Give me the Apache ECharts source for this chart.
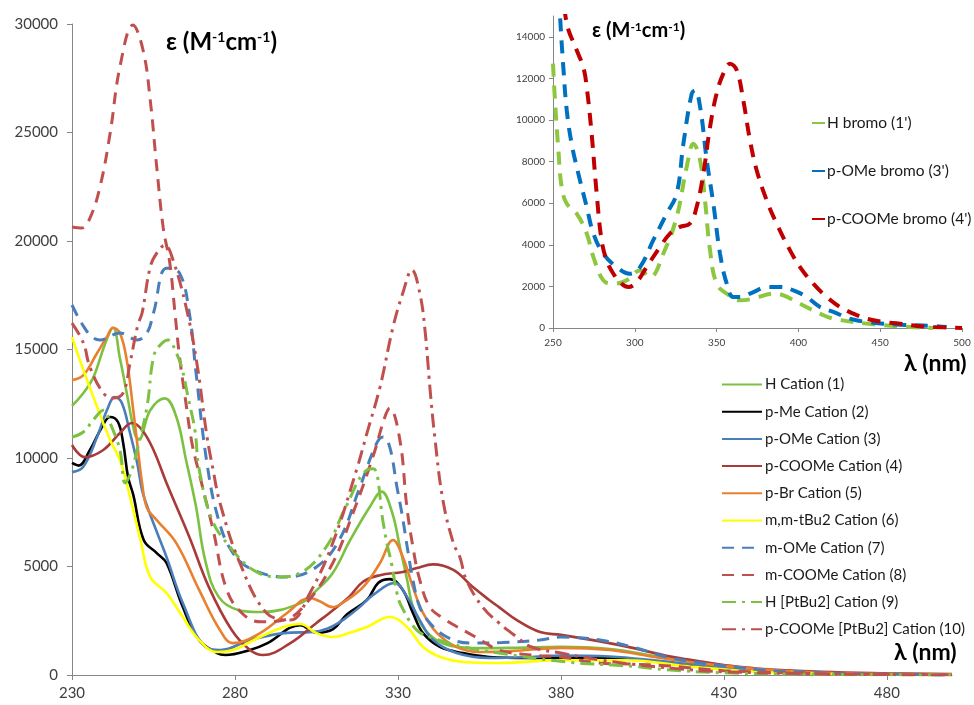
<!DOCTYPE html>
<html>
<head>
<meta charset="utf-8">
<script src="https://cdn.jsdelivr.net/npm/echarts@6/dist/echarts.min.js"></script>
<style>
  html, body { margin: 0; padding: 0; background: #fff; }
  #chart { width: 974px; height: 705px; }
</style>
</head>
<body>
<div id="chart"></div>
<script>
// main plot, [lambda (nm), epsilon]
const hCation = [[230,12400],[233,12900],[236.5,13700],[240,15200],[242.6,16000],[244.7,14600],[246.8,13000],[249.3,11100],[250.5,10850],[254,12200],[258.5,12750],[262,11900],[265,9900],[268,7800],[271,5200],[275,3600],[281,3000],[288,2900],[300,3300],[305,3900],[310,4700],[315.3,6200],[321.4,7750],[325,8450],[328.2,7500],[330.6,5900],[332.8,4400],[334.6,3150],[337.7,2200],[342,1600],[348,1300],[355,1240],[365,1250],[380,1300],[395,1200],[410,850],[420,600],[430,380],[440,220],[460,80],[480,30],[500,10]]
const pMeCation = [[230,9770],[232,9650],[235.5,10370],[239.2,11430],[241.7,11890],[244.1,11660],[245.7,10690],[247.2,9120],[248.8,8300],[252,6220],[256,5620],[259,5160],[264,3130],[269,1610],[274.5,1010],[277,920],[284.6,1150],[290,1470],[300,2300],[305,1950],[310,2100],[314.4,2800],[320.5,3460],[324,4250],[327.5,4420],[331.5,3920],[334.6,2860],[337.7,1930],[343,1290],[350,1010],[358,830],[370,780],[380,800],[395,780],[410,600],[425,400],[440,230],[460,90],[480,30],[500,10]]
const pOMeCation = [[230,9350],[233.4,9580],[237.7,10970],[240.7,12200],[243.2,12810],[245.3,12530],[247.8,11150],[250,9770],[251.5,8520],[253,7800],[256,6600],[259,5440],[264,3320],[271,1290],[275.5,1150],[284.6,1610],[295,1930],[305,2000],[310,2250],[314.4,2670],[318,3100],[322.4,3690],[329,4240],[332.8,3600],[336.7,2530],[340.8,1610],[348,1010],[358,780],[370,820],[380,900],[395,850],[410,650],[425,420],[440,230],[460,90],[480,30],[500,10]]
const pCOOMeCation = [[230,10600],[234,10040],[239.6,10370],[244.7,11150],[248.4,11610],[251.5,11290],[255,10370],[259,8850],[266,6360],[272,4050],[279,2070],[284.6,1150],[288.6,920],[297,1470],[305,2400],[309,2860],[315,3600],[319.3,4300],[324.5,4600],[331.5,4750],[335.8,4930],[340.7,5100],[347,4840],[353,4050],[358,3460],[361,3130],[366.5,2530],[373.6,1980],[380,1850],[392,1550],[402,1250],[412,900],[423,620],[430,460],[440,300],[460,150],[480,80],[500,40]]
const pBrCation = [[230,13590],[233.5,13820],[237.7,14840],[240.7,15580],[242.6,16000],[244.7,15760],[246.8,14510],[248.8,12200],[250,10690],[251.5,8850],[253,7700],[256,7140],[262,6080],[269,3920],[275.4,2070],[279.4,1470],[287.7,1930],[296,2860],[303,3550],[306,3400],[310,3130],[313,3320],[319.3,4050],[324.5,5160],[328.5,6220],[331.5,5440],[334.6,4050],[337.7,2860],[342,1930],[348,1290],[355,1060],[365,1100],[380,1250],[395,1150],[410,800],[425,500],[440,280],[460,110],[480,40],[500,10]]
const mmtBu2Cation = [[230,15570],[233.5,14050],[237.7,12350],[241.7,10830],[244.7,9900],[247,8700],[251,6220],[254,4520],[259,3780],[264,2670],[269,1610],[274.5,1060],[279.4,1150],[287.7,1750],[295,2210],[300,2350],[305,1930],[310,1750],[315,1930],[320.5,2210],[327.5,2670],[332.8,2210],[337.7,1290],[343,830],[350,600],[361,550],[380,680],[400,680],[420,380],[440,150],[460,60],[480,20],[500,10]]
const mOMeCation = [[230,17050],[233,16200],[236,15600],[238.6,15440],[244.7,15760],[250,15440],[253,15760],[255,16680],[259,18750],[263,18520],[266,16680],[268,14000],[271.4,9770],[275,7140],[279.4,5620],[285.6,4840],[296,4520],[305,4980],[312,6220],[318,8520],[323.5,10690],[325.5,10970],[327.5,10500],[329.7,8660],[331.2,7460],[333,5760],[334.6,4380],[336.7,3130],[339.8,2400],[345,1750],[352,1470],[362,1500],[373.5,1610],[380,1750],[392,1610],[402,1290],[412.5,830],[423,550],[430,420],[440,250],[460,100],[480,40],[500,10]]
const mCOOMeCation = [[230,20650],[233,20600],[235.5,21050],[238.6,22500],[241.7,24970],[244.7,28020],[248.7,29950],[251.8,28800],[254,26500],[256,23400],[258,20600],[260,19000],[261.6,16680],[263,14650],[264.7,12810],[266.8,10690],[269,9300],[273.3,6680],[277.5,3920],[282.5,2800],[288,2450],[295,2530],[302,3320],[310,5160],[316.2,7460],[322.3,10040],[326,11890],[327.5,12300],[330.6,10830],[332.7,7800],[334.6,5900],[336.7,4380],[339.8,3130],[344,2600],[350,2070],[355,1650],[361,1150],[371,920],[380,830],[392,550],[402,500],[412,430],[430,200],[460,60],[480,30],[500,10]]
const hPtBu2Cation = [[230,10970],[233.5,11200],[236.5,11750],[239.6,12200],[242,11500],[244.7,10370],[246.3,8850],[248,9300],[250,10370],[253,12350],[255,14650],[257,15200],[259.5,15440],[262,14840],[263.7,14150],[265.6,12810],[267.7,11290],[269,9500],[273,7140],[278.5,5900],[285.6,4840],[293,4520],[300,4700],[308,5900],[314,7740],[320.5,9450],[322.5,9500],[325.5,7000],[326.6,6080],[328,5160],[329.7,3780],[331.2,3130],[335.8,2070],[340.8,1700],[350,1300],[361,1010],[381.8,600],[402,400],[412,250],[430,100],[460,30],[480,10],[500,0]]
const pCOOMePtBu2Cation = [[230,16220],[233.5,15300],[235.5,14190],[239.6,13000],[242.6,12760],[245.7,13000],[247.8,14380],[250.2,16130],[251.5,16680],[254,18800],[256,19440],[258.5,19810],[261,19120],[265,16960],[268.3,14380],[271.4,11000],[273.3,9450],[275.4,7930],[281.5,5160],[289.7,2860],[297,2530],[303,3780],[310,6080],[317.4,9500],[320.5,11150],[324.5,13270],[328.5,16040],[331.5,17600],[334.3,18660],[336.7,17600],[338.3,15900],[339.8,13270],[341.3,10970],[343.8,8060],[347,6080],[349,5440],[351,4380],[356,3130],[361,2400],[366.5,1750],[371,1290],[380,1010],[392,690],[402,500],[415,300],[430,150],[460,50],[480,20],[500,0]]

// inset plot
const hBromo = [[250,12710],[251.2,10950],[253.3,8540],[255.3,6780],[258.4,5980],[264.5,5500],[270.6,4540],[274.7,3410],[280.8,2290],[286.9,2130],[295,2290],[303.2,2770],[309.3,2450],[317.4,3570],[325.6,5340],[331.7,7740],[335.8,8860],[339.9,8060],[342.9,6140],[346,3730],[350,2130],[356.2,1650],[364.3,1330],[372.5,1410],[384.7,1650],[390.8,1570],[401,1170],[413.2,690],[421.4,450],[441.7,210],[462,80],[482.5,0]]
const pOMeBromo = [[253,17000],[254.3,15000],[256.3,12550],[258.4,10470],[261.4,8860],[265.5,7420],[270.6,5820],[274.7,4540],[280.8,3570],[289,2930],[297,2610],[303.2,2930],[311.3,4220],[319.5,5500],[325.6,6460],[329.7,8860],[334.8,11270],[336.8,11430],[339.9,10630],[344,8060],[348,5980],[352.1,3570],[356.2,2130],[360.2,1490],[364.3,1490],[372.5,1730],[380.6,1970],[388.8,1970],[397,1810],[405.1,1490],[413.2,1010],[421.4,770],[431.5,450],[441.7,290],[462,160],[482.5,100],[490.6,50]]
const pCOOMeBromo = [[256,16500],[258.4,14640],[264.5,13350],[268.5,12550],[270.6,11590],[273.6,9350],[276.7,6460],[279.7,4220],[282.8,3250],[286.9,2610],[292,2130],[296,1970],[301.1,2210],[307.2,2930],[315.4,3900],[321.5,4540],[327.6,4860],[333.7,5020],[337.8,5820],[341.9,7420],[346,9670],[350,11270],[354.1,12230],[358.2,12710],[362.3,12390],[366.3,10950],[370.4,9030],[374.5,7580],[380.6,6140],[386.7,5020],[394.9,3730],[401,2930],[409.1,2130],[417.3,1490],[425.4,1010],[433.6,690],[441.7,450],[451.9,290],[462,210],[472.3,100],[482.5,50],[500,0]]

const font = 'Lato, "Open Sans", sans-serif'
const dash = [12, 8]
const dashDot = [14, 6, 3, 6]

// 名称, 数据, 颜色, 线型
const mainDefs = [
  ['H Cation (1)', hCation, '#7CC142', 'solid'],
  ['p-Me Cation (2)', pMeCation, '#000000', 'solid'],
  ['p-OMe Cation (3)', pOMeCation, '#4A7EBB', 'solid'],
  ['p-COOMe Cation (4)', pCOOMeCation, '#A83B38', 'solid'],
  ['p-Br Cation (5)', pBrCation, '#E8802F', 'solid'],
  ['m,m-tBu2 Cation (6)', mmtBu2Cation, '#FFFF00', 'solid'],
  ['m-OMe Cation (7)', mOMeCation, '#4A7EBB', dash],
  ['m-COOMe Cation (8)', mCOOMeCation, '#C0504D', dash],
  ['H [PtBu2] Cation (9)', hPtBu2Cation, '#7CC142', dashDot],
  ['p-COOMe [PtBu2] Cation (10)', pCOOMePtBu2Cation, '#C0504D', dashDot],
]
const insetDefs = [
  ["H bromo (1')", hBromo, '#8DC63F'],
  ["p-OMe bromo (3')", pOMeBromo, '#0070C0'],
  ["p-COOMe bromo (4')", pCOOMeBromo, '#C00000'],
]

const axisLine = { lineStyle: { color: '#868686', width: 1 } }
const plain = (v) => String(v)

const series = mainDefs.map(([name, data, color, type]) => ({
  name,
  type: 'line',
  xAxisIndex: 0,
  yAxisIndex: 0,
  data,
  smooth: 0.4,
  symbol: 'none',
  z: 2,
  lineStyle: { color, width: type === 'solid' ? 2.6 : 3, type },
  itemStyle: { color },
})).concat(insetDefs.map(([name, data, color]) => ({
  name,
  type: 'line',
  xAxisIndex: 1,
  yAxisIndex: 1,
  data,
  smooth: 0.4,
  symbol: 'none',
  lineStyle: { color, width: 4, type: [13, 9] },
  itemStyle: { color },
})))

// 标题文字 ε (M-1cm-1)
const epsLabel = (left, top, size, supSize) => ({
  type: 'text', left, top,
  style: {
    text: '{b|ε (M}{s|-1}{b|cm}{s|-1}{b|)}',
    rich: {
      b: { fontSize: size, fontWeight: 'bold', fontFamily: font, fill: '#000', verticalAlign: 'bottom' },
      s: { fontSize: supSize, fontWeight: 'bold', fontFamily: font, fill: '#000', verticalAlign: 'top' },
    },
  },
})

const chart = echarts.init(document.getElementById('chart'))
chart.setOption({
  animation: false,
  backgroundColor: '#fff',
  textStyle: { fontFamily: font },
  grid: [
    { left: 72, top: 24, width: 880, height: 651 },
    { left: 553, top: 16, width: 409, height: 312 },
  ],
  xAxis: [
    {
      type: 'value', gridIndex: 0, min: 230, max: 500, interval: 50,
      axisLine, splitLine: { show: false },
      axisTick: { length: 5, lineStyle: { color: '#868686' } },
      axisLabel: { color: '#404040', fontSize: 15, margin: 11, showMaxLabel: false, formatter: plain },
    },
    {
      type: 'value', gridIndex: 1, min: 250, max: 500, interval: 50,
      axisLine, splitLine: { show: false },
      axisTick: { length: 4, lineStyle: { color: '#868686' } },
      axisLabel: { color: '#404040', fontSize: 10, margin: 10, formatter: plain },
    },
  ],
  yAxis: [
    {
      type: 'value', gridIndex: 0, min: 0, max: 30000, interval: 5000,
      axisLine: { show: true, lineStyle: { color: '#868686' } }, splitLine: { show: false },
      axisTick: { show: true, length: 5, lineStyle: { color: '#868686' } },
      axisLabel: { color: '#404040', fontSize: 15, margin: 14, formatter: plain },
    },
    {
      type: 'value', gridIndex: 1, min: 0, max: 15000, interval: 2000,
      axisLine: { show: true, lineStyle: { color: '#868686' } }, splitLine: { show: false },
      axisTick: { show: true, length: 4, lineStyle: { color: '#868686' } },
      axisLabel: { color: '#404040', fontSize: 10, margin: 8, showMaxLabel: false, formatter: plain },
    },
  ],
  legend: [
    {
      data: mainDefs.map((d) => d[0]),
      orient: 'vertical', left: 716, top: 372,
      itemWidth: 40, itemHeight: 14, itemGap: 12.2,
      itemStyle: { opacity: 0 },
      textStyle: { fontSize: 15, color: '#1a1a1a', fontFamily: font, padding: [0, 0, 0, -2] },
    },
    {
      data: insetDefs.map((d) => d[0]),
      orient: 'vertical', left: 811, top: 115, padding: 0,
      itemWidth: 16, itemHeight: 14, itemGap: 32,
      itemStyle: { opacity: 0 },
      textStyle: { fontSize: 15.5, color: '#1a1a1a', fontFamily: font, padding: [0, 0, 0, -6] },
    },
  ],
  graphic: [
    epsLabel(166, 30, 24, 14),
    epsLabel(592, 21, 20, 12),
    {
      type: 'text', left: 894, top: 641,
      style: { text: 'λ (nm)', fontSize: 23, fontWeight: 'bold', fontFamily: font, fill: '#000' },
    },
    {
      type: 'text', left: 904, top: 352,
      style: { text: 'λ (nm)', fontSize: 23, fontWeight: 'bold', fontFamily: font, fill: '#000' },
    },
  ],
  series,
})
</script>
</body>
</html>
